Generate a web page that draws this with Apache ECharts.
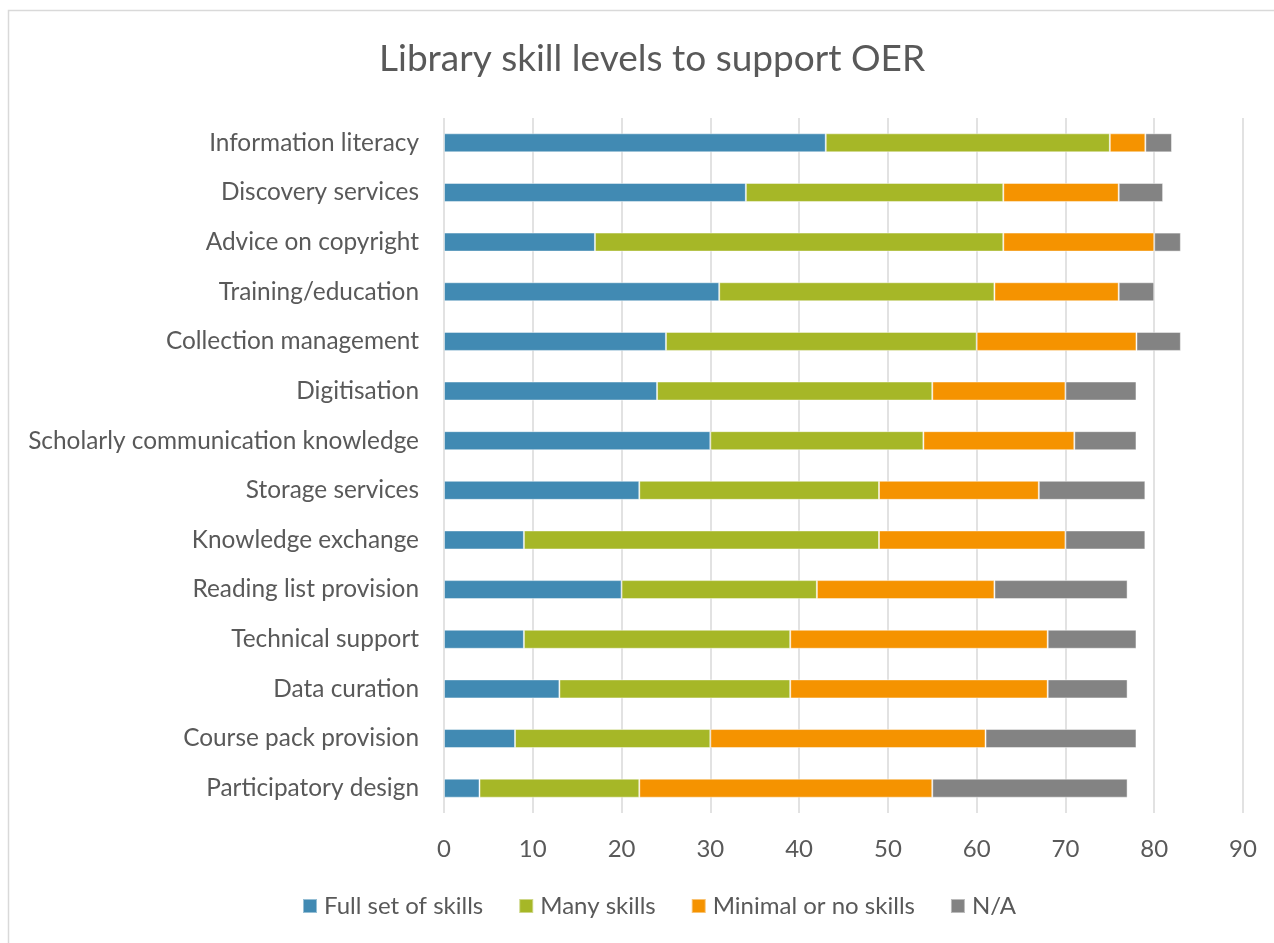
<!DOCTYPE html>
<html>
<head>
<meta charset="utf-8">
<script src="https://cdn.jsdelivr.net/npm/echarts@6/dist/echarts.min.js"></script>
<style>
  html, body { margin: 0; padding: 0; background: #ffffff; }
  #chart { width: 1274px; height: 943px; }
</style>
</head>
<body>
<div id="chart"></div>
<script>
// Skill categories, listed top to bottom
const categories = [
  'Information literacy',
  'Discovery services',
  'Advice on copyright',
  'Training/education',
  'Collection management',
  'Digitisation',
  'Scholarly communication knowledge',
  'Storage services',
  'Knowledge exchange',
  'Reading list provision',
  'Technical support',
  'Data curation',
  'Course pack provision',
  'Participatory design'
];

// Number of responses per skill level (same order as categories)
const fullSet   = [43, 34, 17, 31, 25, 24, 30, 22,  9, 20,  9, 13,  8,  4];
const manySkills = [32, 29, 46, 31, 35, 31, 24, 27, 40, 22, 30, 26, 22, 18];
const minimal   = [ 4, 13, 17, 14, 18, 15, 17, 18, 21, 20, 29, 29, 31, 33];
const notApplicable = [ 3,  5,  3,  4,  5,  8,  7, 12,  9, 15, 10,  9, 17, 22];

const seriesNames = ['Full set of skills', 'Many skills', 'Minimal or no skills', 'N/A'];
const seriesColors = ['#418AB3', '#A6B727', '#F59300', '#838383'];
const seriesData = [fullSet, manySkills, minimal, notApplicable];

const FONT = 'Lato';
const TEXT = '#595959';

const chart = echarts.init(document.getElementById('chart'), null, { renderer: 'canvas' });

chart.setOption({
  backgroundColor: '#ffffff',
  animation: false,
  textStyle: { fontFamily: FONT },
  graphic: [{
    type: 'rect',
    shape: { x: 8.5, y: 10.5, width: 1300, height: 1000 },
    style: { fill: 'none', stroke: '#d9d9d9', lineWidth: 1.5 },
    silent: true
  }],
  title: {
    text: 'Library skill levels to support OER',
    left: 374,
    top: 36,
    textStyle: { fontFamily: FONT, fontSize: 37, fontWeight: 'normal', color: TEXT }
  },
  legend: {
    data: seriesNames,
    bottom: 20,
    left: 297,
    itemWidth: 14,
    itemHeight: 14,
    itemGap: 35,
    icon: 'rect',
    textStyle: { fontFamily: FONT, fontSize: 24, color: TEXT, padding: [0, 0, 0, 2] }
  },
  grid: { left: 444, top: 118, width: 799, height: 695, containLabel: false },
  xAxis: {
    type: 'value',
    min: 0,
    max: 90,
    interval: 10,
    axisLine: { show: false },
    axisTick: { show: false },
    axisLabel: { fontFamily: FONT, fontSize: 24, color: TEXT, margin: 24 },
    splitLine: { show: true, lineStyle: { color: '#d9d9d9', width: 1.5 } }
  },
  yAxis: {
    type: 'category',
    data: categories,
    inverse: true,
    axisLine: { show: false },
    axisTick: { show: false },
    axisLabel: { fontFamily: FONT, fontSize: 24.4, color: TEXT, margin: 25 }
  },
  series: seriesNames.map((name, i) => ({
    name: name,
    type: 'bar',
    stack: 'total',
    barWidth: 19,
    data: seriesData[i],
    itemStyle: {
      color: seriesColors[i],
      borderColor: 'rgba(255,255,255,0.45)',
      borderWidth: 1
    }
  }))
});
</script>
</body>
</html>
